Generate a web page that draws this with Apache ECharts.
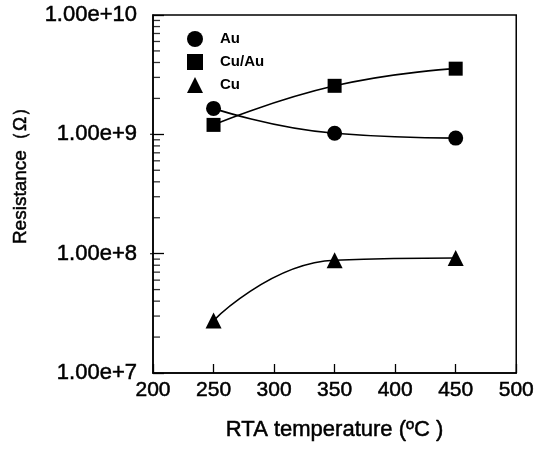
<!DOCTYPE html>
<html><head><meta charset="utf-8">
<script src="https://cdn.jsdelivr.net/npm/echarts@6/dist/echarts.min.js"></script>
<style>html,body{margin:0;padding:0;background:#fff}#c{width:537px;height:450px}</style>
</head><body><div id="c"></div>
<script>
const temps = [250, 350, 450];
const auValues = [1.65e9, 1.02e9, 0.93e9];
const cuAuValues = [1.2e9, 2.55e9, 3.55e9];
const cuValues = [2.75e7, 8.8e7, 9.2e7];
const xTicks = [200, 250, 300, 350, 400, 450, 500];
const yTicks = [1e7, 1e8, 1e9, 1e10];
const minorTickValues = [];
[7, 8, 9].forEach(d => { for (let k = 2; k <= 9; k++) minorTickValues.push(k * Math.pow(10, d)); });

const font = '"Liberation Sans", Arial, sans-serif';
const thick = {textBorderColor: '#000', textBorderWidth: 0.5};
const chart = echarts.init(document.getElementById('c'), null, {renderer: 'canvas'});
function pts(vals) { return temps.map((t, i) => [t, vals[i]]); }
const lineCommon = {type: 'line', smooth: 0.5, lineStyle: {color: '#000', width: 1.6},
  itemStyle: {color: '#000'}, symbolKeepAspect: true, z: 3};
chart.setOption({
  animation: false,
  backgroundColor: '#fff',
  grid: {left: 153, right: 20, top: 15, bottom: 77, show: true, borderColor: '#000', borderWidth: 1.5},
  legend: {
    orient: 'vertical', left: 182, top: 26, itemWidth: 16, itemHeight: 16, itemGap: 7,
    textStyle: {fontFamily: font, fontWeight: 'bold', fontSize: 15, color: '#000', padding: [0, 0, 0, 12]},
    data: [{name: 'Au', icon: 'circle'}, {name: 'Cu/Au', icon: 'rect'}, {name: 'Cu', icon: 'triangle'}]
  },
  xAxis: {
    type: 'value', min: xTicks[0], max: xTicks[xTicks.length - 1], interval: 50,
    name: 'RTA temperature (ºC )', nameLocation: 'middle', nameGap: 46,
    nameTextStyle: Object.assign({fontFamily: font, fontSize: 22, color: '#000'}, thick),
    axisLine: {lineStyle: {color: '#000', width: 1.5}},
    axisTick: {inside: true, length: 9, lineStyle: {color: '#000', width: 1.3}},
    axisLabel: Object.assign({fontFamily: font, fontSize: 21, color: '#000', margin: 7}, thick),
    splitLine: {show: false}
  },
  yAxis: {
    type: 'log', logBase: 10, min: yTicks[0], max: yTicks[yTicks.length - 1],
    axisLine: {lineStyle: {color: '#000', width: 1.5}},
    axisTick: {inside: true, length: 11, lineStyle: {color: '#000', width: 1.3}},
    axisLabel: Object.assign({fontFamily: font, fontSize: 22, color: '#000', margin: 16,
      formatter: v => '1.00e+' + Math.round(Math.log10(v))}, thick),
    splitLine: {show: false}
  },
  series: [
    Object.assign({}, lineCommon, {name: 'Au', symbol: 'circle', symbolSize: 15, data: pts(auValues)}),
    Object.assign({}, lineCommon, {name: 'Cu/Au', symbol: 'rect', symbolSize: 14, data: pts(cuAuValues)}),
    Object.assign({}, lineCommon, {name: 'Cu', symbol: 'triangle', symbolSize: 16, data: pts(cuValues)}),
    {type: 'scatter', silent: true, clip: false, z: 4, symbol: 'rect', symbolSize: [7, 1.3], symbolOffset: [3.5, 0],
      itemStyle: {color: '#000'}, data: minorTickValues.map(v => [xTicks[0], v])},
    {type: 'scatter', silent: true, clip: false, z: 4, symbol: 'rect', symbolSize: [3, 1.3], symbolOffset: [-1.5, 0],
      itemStyle: {color: '#000'}, data: yTicks.slice(1, -1).map(v => [xTicks[0], v])}
  ],
  graphic: [{type: 'text', x: 21, y: 171, rotation: Math.PI / 2,
    style: {text: 'Resistance（Ω）', fontSize: 19, fontFamily: font, fill: '#000', align: 'center', verticalAlign: 'middle',
      stroke: '#000', lineWidth: 0.5}}]
});
</script></body></html>
